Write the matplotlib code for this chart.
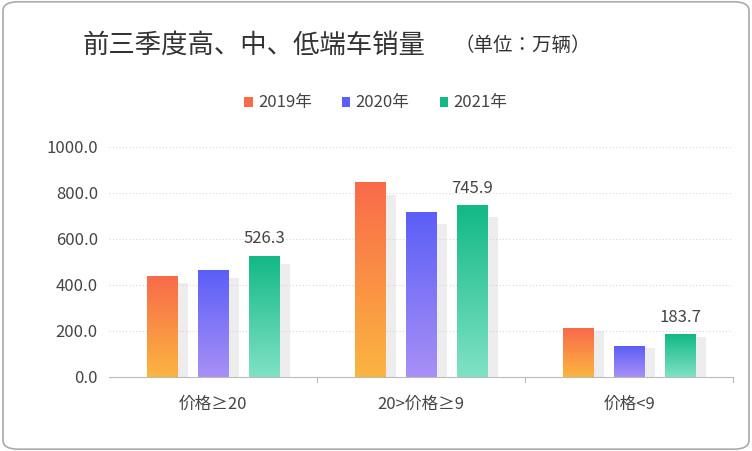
import matplotlib
matplotlib.use("Agg")
import matplotlib.pyplot as plt
import numpy as np
from matplotlib.patches import FancyBboxPatch, Rectangle

plt.rcParams['font.family'] = ['Noto Sans CJK SC', 'Noto Sans CJK JP', 'DejaVu Sans']

categories = ["价格≥20", "20>价格≥9", "价格<9"]
years = ["2019年", "2020年", "2021年"]
v2019 = [437, 848, 212]
v2020 = [463, 714, 134]
v2021 = [526.3, 745.9, 183.7]
series = [v2019, v2020, v2021]
labels_show = [None, None, True]
grads = [("#f96a4a", "#fbb540"), ("#5b5ef7", "#a890f5"), ("#12b886", "#80e2c4")]

fig = plt.figure(figsize=(7.52, 4.51), dpi=100)
fig.patches.append(FancyBboxPatch((0.004, 0.004), 0.992, 0.992, boxstyle="round,pad=0,rounding_size=0.02",
                                  transform=fig.transFigure, fc="none", ec="#aaaaaa", lw=1.2, zorder=-5))
ax = fig.add_axes([0.145, 0.165, 0.83, 0.51])
ax.set_xlim(0, 3)
ax.set_ylim(0, 1000)
ax.patch.set_alpha(0)
for y in [200, 400, 600, 800, 1000]:
    ax.axhline(y, color="#d9d9d9", lw=0.8, ls=(0, (1, 2)), zorder=0)
for s in ["top", "right", "left"]:
    ax.spines[s].set_visible(False)
ax.spines["bottom"].set_color("#bbbbbb")
ax.set_yticks([0, 200, 400, 600, 800, 1000])
ax.set_yticklabels([f"{t:.1f}" for t in [0, 200, 400, 600, 800, 1000]], fontsize=12, color="#444444")
ax.tick_params(axis="y", length=0, pad=8)
ax.set_xticks([0.5, 1.5, 2.5])
ax.set_xticklabels(categories, fontsize=12, color="#444444")
ax.tick_params(axis="x", length=0, pad=14)
for xb in [1, 2, 3]:
    ax.plot([xb, xb], [0, -25], color="#bbbbbb", lw=0.8, clip_on=False)

w = 0.145
offs = [-0.245, 0.0, 0.245]
for si, vals in enumerate(series):
    c1, c2 = grads[si]
    cmap = matplotlib.colors.LinearSegmentedColormap.from_list("g", [c2, c1])
    for ci, v in enumerate(vals):
        x0 = ci + 0.5 + offs[si] - w / 2
        sh = Rectangle((x0 + 0.05, 0), w, v * 0.93, fc="#cccccc", alpha=0.35, ec="none", zorder=1)
        ax.add_patch(sh)
        rect = Rectangle((x0, 0), w, v, fc="none", ec="none", zorder=2)
        ax.add_patch(rect)
        grad = np.linspace(0, 1, 256).reshape(-1, 1)
        im = ax.imshow(grad, cmap=cmap, extent=[x0, x0 + w, 0, v], origin="lower", aspect="auto", zorder=2)
        im.set_clip_path(rect)
        if labels_show[si]:
            ax.text(x0 + w / 2, v + 35, f"{v:.1f}", ha="center", va="bottom", fontsize=12, color="#444444")

fig.text(0.11, 0.9, "前三季度高、中、低端车销量", fontsize=19, color="#333333", va="center")
fig.text(0.605, 0.9, "（单位：万辆）", fontsize=14, color="#333333", va="center")
lx = [0.325, 0.455, 0.585]
for i, yname in enumerate(years):
    fig.patches.append(Rectangle((lx[i], 0.763), 0.011, 0.022, transform=fig.transFigure,
                                 fc=grads[i][0], ec="none"))
    fig.text(lx[i] + 0.018, 0.773, yname, fontsize=12, color="#444444", va="center")

fig.savefig("out.png", dpi=100)
